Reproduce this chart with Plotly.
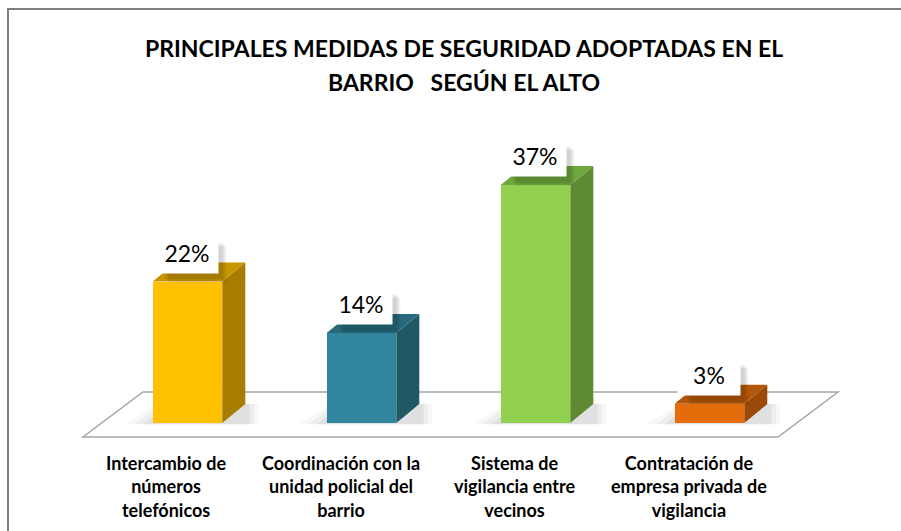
import plotly.graph_objects as go

# ---- data ----
categories = [
    "Intercambio de<br>números<br>telefónicos",
    "Coordinación con la<br>unidad policial del<br>barrio",
    "Sistema de<br>vigilancia entre<br>vecinos",
    "Contratación de<br>empresa privada de<br>vigilancia",
]
values = [22, 14, 37, 3]
value_labels = ["22%", "14%", "37%", "3%"]
title_lines = ["PRINCIPALES MEDIDAS DE SEGURIDAD ADOPTADAS EN EL",
               "BARRIO\u00a0\u00a0 SEGÚN EL ALTO"]

# ---- style ----
front_colors = ["#FFC000", "#31859C", "#92D050", "#E46C0A"]
side_colors = ["#A67D00", "#215866", "#5E8A34", "#9A4A06"]
top_colors = ["#C79600", "#276A7B", "#6FA63D", "#B55708"]
FONT = "Lato, Carlito, Calibri, sans-serif"

W, H = 901, 531
PX_CAT = 174.0          # pixels per category
X0_PX = 187.5           # pixel of first category centre
ZERO_PX = 423.0         # pixel of value 0
PX_PCT = 6.43           # pixels per percent
BAR_W = 0.40            # bar width in category units
DX = 23 / PX_CAT        # depth offset (x)
DY = 19 / PX_PCT        # depth offset (y, in %)

x_range = [-X0_PX / PX_CAT, (W - X0_PX) / PX_CAT]
y_range = [(ZERO_PX - H) / PX_PCT, ZERO_PX / PX_PCT]

def px2x(p):
    return (p - X0_PX) / PX_CAT

def py2y(p):
    return (ZERO_PX - p) / PX_PCT

xs = list(range(len(values)))

fig = go.Figure()

# front faces
fig.add_trace(go.Bar(
    x=xs, y=values, width=BAR_W,
    marker=dict(color=front_colors, line=dict(width=0)),
    hoverinfo="skip", showlegend=False,
))

# side and top faces
for i, v in enumerate(values):
    xl, xr = i - BAR_W / 2, i + BAR_W / 2
    fig.add_trace(go.Scatter(
        x=[xr, xr + DX, xr + DX, xr, xr],
        y=[0, DY, v + DY, v, 0],
        fill="toself", fillcolor=side_colors[i], mode="lines",
        line=dict(width=0), hoverinfo="skip", showlegend=False,
    ))
    fig.add_trace(go.Scatter(
        x=[xl, xr, xr + DX, xl + DX, xl],
        y=[v, v, v + DY, v + DY, v],
        fill="toself", fillcolor=top_colors[i], mode="lines",
        line=dict(width=0), hoverinfo="skip", showlegend=False,
    ))

shapes = []
# floor
fl, fr, bl, br = px2x(83), px2x(778), px2x(143), px2x(838)
yf, yb = py2y(437), py2y(392)
shapes.append(dict(
    type="path", xref="x", yref="y", layer="below",
    path=f"M {fl},{yf} L {fr},{yf} L {br},{yb} L {bl},{yb} Z",
    fillcolor="white", line=dict(color="#A6A6A6", width=1.5),
))
# soft shadows of bars on the floor
for i, v in enumerate(values):
    xl, xr = i - BAR_W / 2, i + BAR_W / 2
    for k, a in enumerate([0.03, 0.04, 0.05]):
        g = (3 - k) * 0.025
        shapes.append(dict(
            type="path", xref="x", yref="y", layer="below",
            path=(f"M {xl - g*2.2},{-0.2} L {xr + DX + g},{-0.2} "
                  f"L {xr + DX + g},{DY} L {xl + DX - g},{DY + 0.4} Z"),
            fillcolor=f"rgba(0,0,0,{a})", line=dict(width=0),
        ))
# label box shadows (pixel-sized, anchored at each bar top), soft gradient
for i, v in enumerate(values):
    for k in range(5):
        g = 5 - k
        shapes.append(dict(
            type="rect", xref="x", yref="y", layer="above",
            xsizemode="pixel", ysizemode="pixel", xanchor=i, yanchor=v,
            x0=-24 + g, x1=31 + 3 + g, y0=2 - g + 2, y1=40 - g,
            fillcolor="rgba(0,0,0,0.035)", line=dict(width=0),
        ))
# chart frame
shapes.append(dict(
    type="rect", xref="paper", yref="paper",
    x0=8 / W, x1=1.05, y0=-0.05, y1=1 - 9 / H,
    line=dict(color="#808080", width=2), fillcolor="rgba(0,0,0,0)",
))

annotations = []
# title
for j, t in enumerate(title_lines):
    annotations.append(dict(
        text=f"<b>{t}</b>", xref="paper", yref="paper",
        x=464 / W, y=1 - (48 + 34 * j) / H, showarrow=False,
        xanchor="center", yanchor="middle",
        font=dict(family=FONT, size=23, color="#000000"),
    ))
# value labels
for i, v in enumerate(values):
    annotations.append(dict(
        text=value_labels[i], x=i, y=v, xref="x", yref="y",
        showarrow=False, xshift=-1, yshift=29,
        width=60, height=38, bgcolor="white",
        font=dict(family=FONT, size=23, color="#000000"),
    ))
# category labels
for i, c in enumerate(categories):
    annotations.append(dict(
        text=f"<b>{c}</b>", x=i, y=py2y(486), xref="x", yref="y",
        showarrow=False, xshift=-21, xanchor="center", yanchor="middle",
        align="center",
        font=dict(family=FONT, size=18, color="#000000"),
    ))

fig.update_layout(
    width=W, height=H,
    margin=dict(l=0, r=0, t=0, b=0),
    paper_bgcolor="white", plot_bgcolor="white",
    xaxis=dict(range=x_range, visible=False, fixedrange=True),
    yaxis=dict(range=y_range, visible=False, fixedrange=True),
    shapes=shapes, annotations=annotations,
    showlegend=False, bargap=0,
)

fig.write_html(
    "out.html",
    config={"displayModeBar": False},
    post_script="document.body.style.margin='0';document.body.style.overflow='hidden';",
)
